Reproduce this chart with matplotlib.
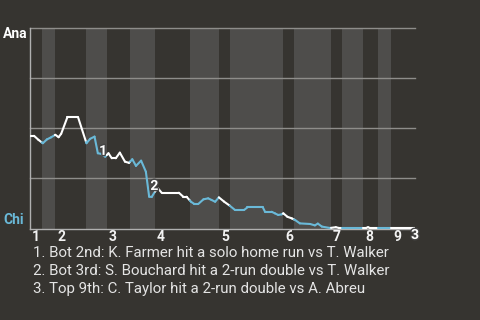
import numpy as np
import matplotlib.pyplot as plt
import matplotlib.patheffects as pe
from matplotlib.collections import LineCollection

plt.rcParams['font.family'] = ['Roboto', 'DejaVu Sans']

bg = '#363430'       # figure / top-half colour
band = '#4e4d4b'     # bottom-half shading
white = '#ffffff'
blue = '#6ab9d8'

# start of every half inning (plate appearance index), top 1st .. top 9th
half_starts = [0, 3.2, 6.8, 15.3, 20.9, 27.3, 34.1, 43.6, 51.5,
               54.5, 69.0, 72.0, 82.1, 85.1, 90.8, 94.9, 98.5]
game_end = 105
innings = ['1', '2', '3', '4', '5', '6', '7', '8', '9']

# Ana win probability after each event
pa = [0.0, 1.1, 2.3, 3.5, 4.6, 5.7, 6.9, 7.8, 8.5, 10.2, 13.1, 15.4, 16.4, 17.6,
      18.5, 19.4, 20.5, 21.4, 22.3, 23.4, 24.5, 25.9, 27.0, 27.9, 28.9, 30.3,
      31.6, 32.5, 33.2, 34.1, 34.9, 35.9, 40.6, 41.8, 42.7, 43.9, 44.8, 45.9,
      47.3, 48.6, 49.5, 50.5, 51.5, 52.9, 54.5, 55.9, 58.4, 59.3, 63.5, 64.1,
      65.9, 66.8, 67.7, 68.6, 69.1, 70.2, 71.4, 72.3, 73.6, 76.4, 77.7, 78.5,
      79.6, 81.8, 83.4, 84.3, 91.6, 92.2, 92.7, 105]
wp = [0.462, 0.462, 0.442, 0.425, 0.444, 0.454, 0.467, 0.455, 0.472, 0.555,
      0.555, 0.425, 0.447, 0.458, 0.375, 0.372, 0.358, 0.375, 0.35, 0.35,
      0.378, 0.333, 0.327, 0.345, 0.312, 0.338, 0.283, 0.158, 0.157, 0.184,
      0.2, 0.178, 0.178, 0.158, 0.158, 0.133, 0.122, 0.122, 0.145, 0.15,
      0.142, 0.133, 0.155, 0.134, 0.113, 0.092, 0.092, 0.105, 0.105, 0.083,
      0.083, 0.075, 0.067, 0.07, 0.075, 0.058, 0.05, 0.042, 0.025, 0.022,
      0.015, 0.024, 0.009, 0.002, 0.006, 0.002, 0.002, 0.006, 0.002, 0.002]

# key plays: (index into pa/wp, label, offset in points)
key_idx = [14, 28, 69]
key_offsets = [(3.8, 1.7), (1.9, 7.9), (0, -5)]
key_text = ['1. Bot 2nd: K. Farmer hit a solo home run vs T. Walker',
            '2. Bot 3rd: S. Bouchard hit a 2-run double vs T. Walker',
            '3. Top 9th: C. Taylor hit a 2-run double vs A. Abreu']

fig = plt.figure(figsize=(4.8, 3.2), dpi=100, facecolor=bg)
ax = fig.add_axes([30/480, 1 - 229/320, 385/480, 201/320])
ax.set_facecolor(bg)
ax.set_xlim(0, game_end)
ax.set_ylim(-0.003, 1.0)

edges = half_starts + [game_end]
for i in range(1, len(half_starts), 2):
    ax.axvspan(edges[i], edges[i + 1], color=band, lw=0, zorder=0)

for g in [0.25, 0.5, 0.75, 1.0]:
    ax.axhline(g, color='#8e8d8a', lw=1, zorder=1, clip_on=False)

# split the line at half-inning boundaries so each half gets its colour
xs = np.array(pa)
ys = np.array(wp)
cuts = [e for e in half_starts[1:] if e not in pa]
xall = np.sort(np.concatenate([xs, cuts]))
yall = np.interp(xall, xs, ys)
segs, cols = [], []
for j in range(len(xall) - 1):
    mid = (xall[j] + xall[j + 1]) / 2
    k = np.searchsorted(half_starts, mid) - 1
    segs.append([(xall[j], yall[j]), (xall[j + 1], yall[j + 1])])
    cols.append(white if k % 2 == 0 else blue)
ax.add_collection(LineCollection(segs, colors=cols, linewidths=1.5,
                                 capstyle='round', joinstyle='round', zorder=3))

outline = [pe.withStroke(linewidth=2, foreground='#444444')]
for n, (i, off) in enumerate(zip(key_idx, key_offsets)):
    ax.annotate(str(n + 1), (pa[i], wp[i]), xytext=off, textcoords='offset points',
                ha='center', va='center', color=white, fontsize=10,
                fontweight='bold', path_effects=outline, zorder=5,
                annotation_clip=False)

for spine in ['top', 'right']:
    ax.spines[spine].set_visible(False)
for spine in ['left', 'bottom']:
    ax.spines[spine].set_color('#b0b0b0')
    ax.spines[spine].set_linewidth(1)
ax.set_xticks([])
ax.set_yticks([])

for lab, x in zip(innings, half_starts[::2]):
    ax.annotate(lab, (x, 0), xycoords=('data', 'axes fraction'),
                xytext=(1.5, -5.5), textcoords='offset points',
                ha='left', va='center', color='#f2f2f2', fontsize=10,
                fontweight='bold')

fig.text(3/480, 1 - 34.5/320, 'Ana', color=white, fontsize=10,
         fontweight='bold', ha='left', va='center')
fig.text(3/480, 1 - 219.5/320, 'Chi', color=blue, fontsize=10,
         fontweight='bold', ha='left', va='center')

for k, t in enumerate(key_text):
    fig.text(33/480, 1 - (253 + 18*k)/320, t, color='#e4e4e4', fontsize=10.8,
             ha='left', va='center')

fig.savefig('out.png', dpi=100, facecolor=bg)
